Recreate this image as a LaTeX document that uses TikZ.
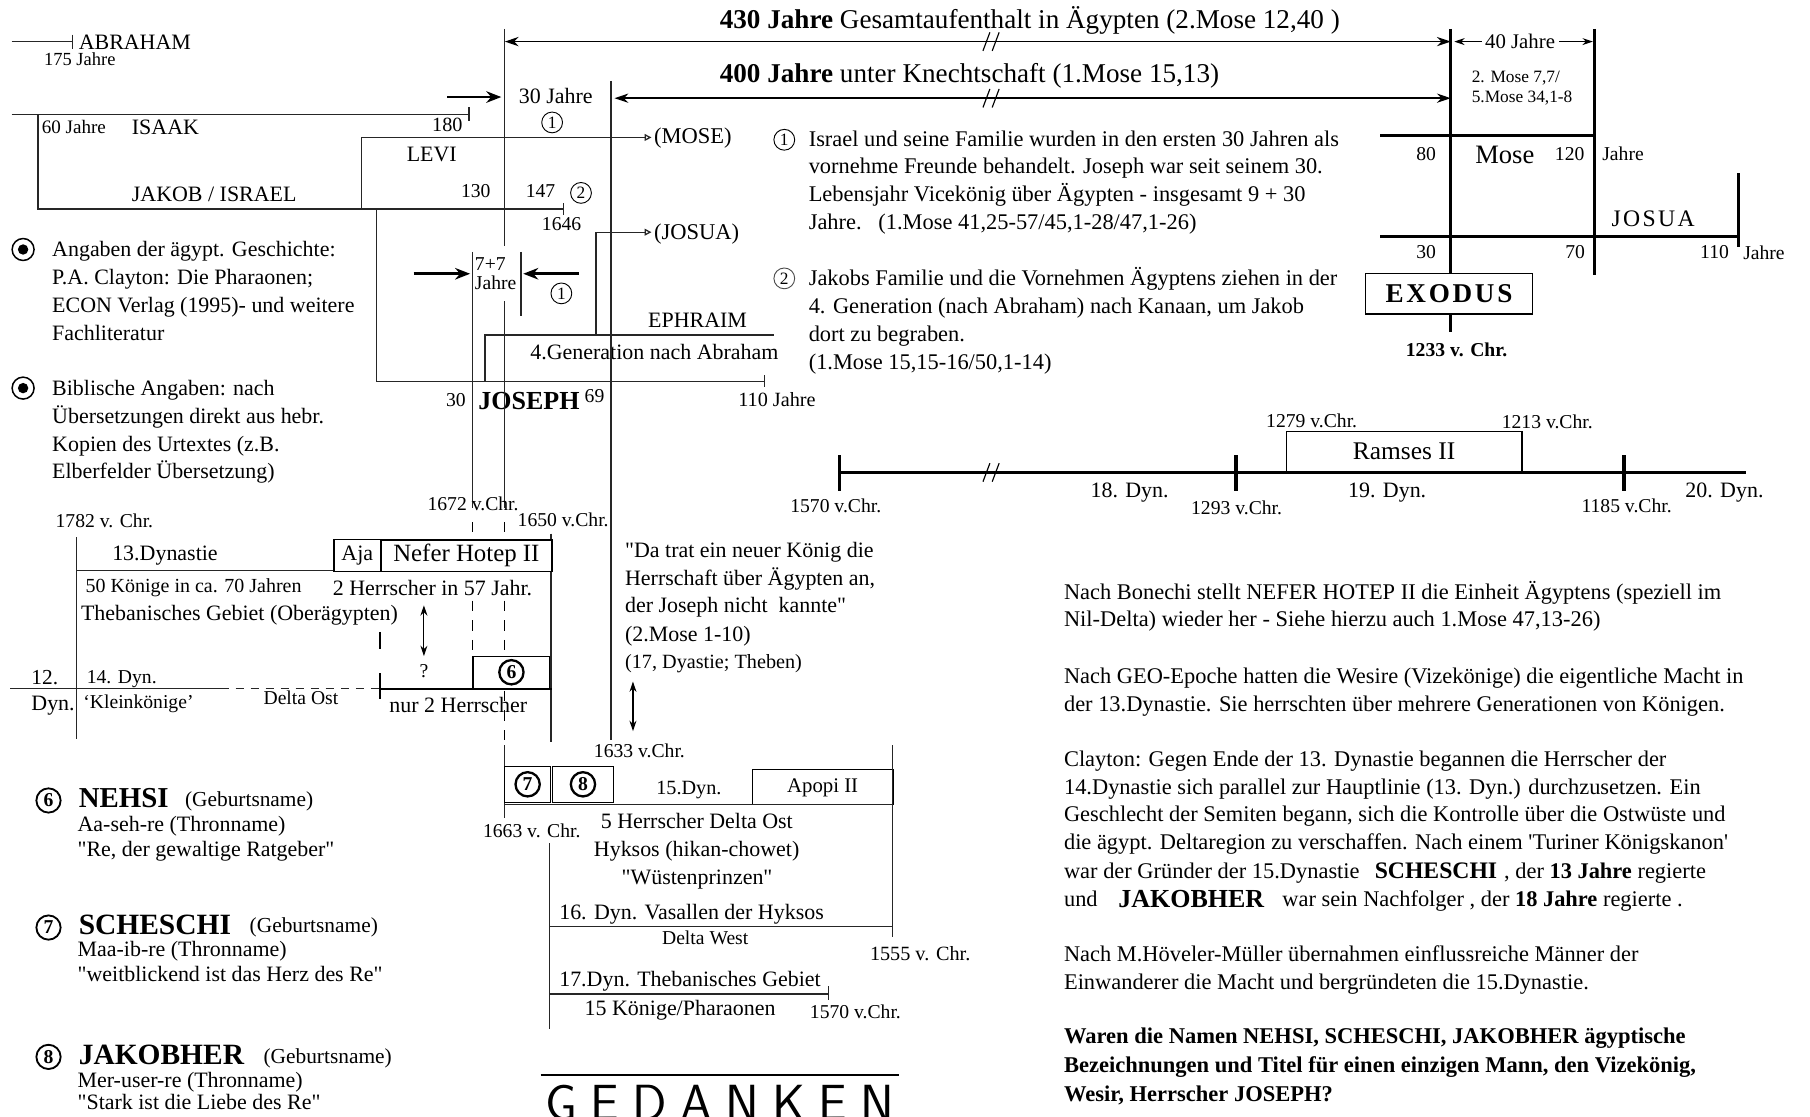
\documentclass[tikz,border=0pt]{standalone}
\usepackage{fontspec}
\setmainfont{Liberation Serif}[Ligatures=TeXOff]
\newfontfamily\spaced[LetterSpace=10,Ligatures=TeXOff]{Liberation Serif}
\usetikzlibrary{arrows.meta}
\newcommand\fsz[1]{\fontsize{#1}{#1}\selectfont}
\newcommand\mylab[5]{\node[inner sep=0pt,anchor=base west,font=\fsz{#4}] (#1) at (#2,{#3+0.34*#4}) {#5};}
\newcommand\mylabc[5]{\node[inner sep=0pt,anchor=base,font=\fsz{#4}] (#1) at (#2,{#3+0.34*#4}) {#5};}
\newcommand\mylabr[5]{\node[inner sep=0pt,anchor=base east,font=\fsz{#4}] (#1) at (#2,{#3+0.34*#4}) {#5};}
\newcommand\brk[2]{\draw[line width=1pt] ({#1-7},{#2+8}) -- ({#1-1},{#2-8}) ({#1+1},{#2+8}) -- ({#1+7},{#2-8});}
\newcommand\gsp{\hspace{11.5pt}}
\tikzset{
  ln/.style={line width=1.1pt, black!85},
  tk/.style={line width=2.6pt},
  dsh/.style={line width=1.1pt, dash pattern=on 9pt off 8pt},
  ar/.style={line width=2.2pt,-{Stealth[length=13pt,width=10pt]}},
  dar/.style={line width=1.3pt,{Stealth[length=12pt,width=8pt]}-{Stealth[length=12pt,width=8pt]}},
  dbl/.style={line width=1pt,{Stealth[length=9pt,width=6pt]}-{Stealth[length=9pt,width=6pt]}},
  sar/.style={line width=1pt,-{Stealth[length=9pt,width=6pt]}},
  opn/.style={ln,-{Triangle[open,length=6pt,width=6pt]}},
  cn/.style={circle,draw,line width=0.8pt,minimum size=18pt,inner sep=0pt,font=\fsz{15}},
  cb/.style={circle,draw,line width=2pt,minimum size=21pt,inner sep=0pt,font=\fsz{17}\bfseries},
  cl/.style={circle,draw,line width=1.3pt,minimum size=19pt,inner sep=0pt,font=\fsz{15}},
  cg/.style={circle,draw,line width=1.6pt,minimum size=21pt,inner sep=0pt,font=\fsz{17}\bfseries},
  bx/.style={draw,line width=1.2pt,inner sep=0pt,anchor=north west},
}
\begin{document}
\begin{tikzpicture}[x=1pt,y=-1pt]
\useasboundingbox[fill=white] (0,0) rectangle (1567,967);

% ---------- headings and big arrows ----------
\mylab{h430}{623}{17}{23.5}{\textbf{430 Jahre} Gesamtaufenthalt in Ägypten (2.Mose 12,40 )}
\mylab{h400}{623}{63}{23.5}{\textbf{400 Jahre} unter Knechtschaft (1.Mose 15,13)}
\draw[dar] (437,36) -- (1256,36);
\brk{858}{36}
\draw[dar] (532,85) -- (1256,85);
\brk{858}{85}
\mylabc{j40}{1316}{36}{18}{40 Jahre}
\draw[sar] (1283,36) -- (1259,36);
\draw[sar] (1350,36) -- (1379,36);

% ---------- Mose / Josua frame ----------
\draw[tk] (1256,25) -- (1256,287);
\draw[tk] (1380,25) -- (1380,238);
\draw[tk] (1195,117) -- (1380,117);
\draw[tk] (1195,205) -- (1505,205);
\draw[tk] (1505,150) -- (1505,214);
\mylab{m1}{1274}{66}{15}{2. Mose 7,7/}
\mylab{m2}{1274}{84}{15}{5.Mose 34,1-8}
\mylab{n80}{1226}{133}{17}{80}
\mylab{mose}{1277}{134}{23}{Mose}
\mylab{n120}{1346}{133}{17}{120}
\mylab{jm}{1387}{133}{17}{Jahre}
\mylab{josua}{1395}{189}{20.5}{\spaced JOSUA}
\mylab{n30}{1226}{218}{17}{30}
\mylab{n70}{1355}{218}{17}{70}
\mylabr{n110}{1497}{218}{17}{110}
\mylab{jj}{1509}{219}{17}{Jahre}
\node[draw,fill=white,line width=1.2pt,minimum width=145pt,minimum height=35pt,inner sep=0pt,font={\fsz{23.5}\spaced\bfseries}] (exo) at (1254.5,254.5) {EXODUS};
\mylabc{y1233}{1261}{303}{17}{\textbf{1233 v. Chr.}}

% ---------- genealogy ----------
\draw[ln] (10,36) -- (63,36); \draw[ln] (63,30) -- (63,42);
\mylab{abr}{68}{36}{19}{ABRAHAM}
\mylab{a175}{38}{51}{16}{175 Jahre}
\draw[ln] (10,99) -- (406,99); \draw[ln] (406,93) -- (406,105);
\draw[ln] (33,99) -- (33,181) -- (488,181); \draw[ln] (488,176) -- (488,186);
\mylab{s60}{36}{110}{16.5}{60 Jahre}
\mylab{isaak}{114}{110}{19}{ISAAK}
\mylab{s180}{374}{108}{17.5}{180}
\mylab{jakob}{114}{168}{19}{JAKOB / ISRAEL}
\mylab{s130}{399}{165}{17}{130}
\mylab{s147}{455}{165}{17}{147}
\node[cn] (c2a) at (503,167) {2};
\mylab{s1646}{469}{194}{17}{1646}
\draw[opn] (313,181) -- (313,119) -- (564,119);
\mylab{mosep}{566}{118}{19.5}{(MOSE)}
\mylab{levi}{352}{133}{19}{LEVI}
\draw[ln] (326,181) -- (326,330) -- (662,330); \draw[ln] (662,325) -- (662,335);
\mylab{s30}{386}{346}{17}{30}
\mylab{joseph}{414}{347}{22.5}{\textbf{JOSEPH}}
\mylab{s69}{506}{343}{17}{69}
\mylab{s110}{639}{346}{17.5}{110 Jahre}
\draw[line width=1.5pt,black!85] (420,330) -- (420,290) -- (670,290);
\draw[opn] (516,290) -- (516,201) -- (564,201);
\mylab{josp}{566}{201}{19.5}{(JOSUA)}
\mylab{eph}{561}{277}{19}{EPHRAIM}
\mylab{gen4}{459}{305}{19}{4.Generation nach Abraham}

% ---------- 30 Jahre / 7+7 ----------
\draw[ln] (437,25) -- (437,213);
\draw[ln] (437,261) -- (437,440);
\draw[ln] (529,70) -- (529,641);
\draw[ar] (387,84) -- (434,84);
\mylab{j30}{449}{83}{19}{30 Jahre}
\node[cn] (c1a) at (478,106) {1};
\draw[ln] (409,218) -- (409,440);
\draw[ln] (451,218) -- (451,274);
\mylab{s77}{411}{228}{17}{7+7}
\mylab{j77}{411}{245}{17}{Jahre}
\draw[ar] (358,237) -- (407,237);
\draw[ar] (501,237) -- (453,237);
\node[cn] (c1b) at (486,254) {1};

% ---------- legend top-left ----------
\node[cl] (lg1) at (20,216) {}; \fill (lg1.center) circle (4.5);
\node[cl] (lg2) at (20,336) {}; \fill (lg2.center) circle (4.5);
\mylab{la1}{45}{216}{19}{Angaben der ägypt. Geschichte:}
\mylab{la2}{45}{240}{19}{P.A. Clayton: Die Pharaonen;}
\mylab{la3}{45}{264}{19}{ECON Verlag (1995)- und weitere}
\mylab{la4}{45}{288}{19}{Fachliteratur}
\mylab{lb1}{45}{336}{19}{Biblische Angaben: nach}
\mylab{lb2}{45}{360}{19}{Übersetzungen direkt aus hebr.}
\mylab{lb3}{45}{384}{19}{Kopien des Urtextes (z.B.}
\mylab{lb4}{45}{408}{19}{Elberfelder Übersetzung)}

% ---------- notes 1 and 2 ----------
\node[cn] (c1c) at (679,121) {1};
\mylab{r11}{700}{120}{19.4}{Israel und seine Familie wurden in den ersten 30 Jahren als}
\mylab{r12}{700}{144}{19.4}{vornehme Freunde behandelt. Joseph war seit seinem 30.}
\mylab{r13}{700}{168}{19.4}{Lebensjahr Vicekönig über Ägypten - insgesamt 9 + 30}
\mylab{r14}{700}{192}{19.4}{Jahre.\ \ \ (1.Mose 41,25-57/45,1-28/47,1-26)}
\node[cn,draw=black!70] (c2b) at (679,241) {2};
\mylab{r21}{700}{241}{19.4}{Jakobs Familie und die Vornehmen Ägyptens ziehen in der}
\mylab{r22}{700}{265}{19.4}{4. Generation (nach Abraham) nach Kanaan, um Jakob}
\mylab{r23}{700}{289}{19.4}{dort zu begraben.}
\mylab{r24}{700}{313}{19.4}{(1.Mose 15,15-16/50,1-14)}

% ---------- dates ----------
\mylab{d1672}{370}{436}{17}{1672 v.Chr.}
\mylab{d1650}{448}{450}{17}{1650 v.Chr.}
\mylab{d1782}{48}{451}{17}{1782 v. Chr.}

% ---------- 13. / 14. Dynastie ----------
\draw[dsh] (409,452) -- (409,567);
\draw[dsh] (437,452) -- (437,567);
\draw[dsh] (437,598) -- (437,663);
\draw[ln] (66,465) -- (66,640);
\draw[ln] (66,494) -- (289,494);
\draw[ln] (477,462) -- (477,642);
\node[bx,fill=white,minimum width=40.5pt,minimum height=27.5pt,font=\fsz{19}] (aja) at (288.5,466.5) {Aja};
\node[bx,fill=white,line width=1.5pt,minimum width=148pt,minimum height=27.5pt,font=\fsz{21.5}] (nefer) at (329,466.5) {Nefer Hotep II};
\mylab{dyn13}{97}{479}{19}{13.Dynastie}
\mylab{k50}{74}{507}{17.3}{50 Könige in ca. 70 Jahren}
\node[inner sep=0pt,anchor=base west,font=\fsz{19},fill=white] (h2) at (288,{509+0.34*19}) {2 Herrscher in 57 Jahr.};
\mylab{theb}{70}{531}{19}{Thebanisches Gebiet (Oberägypten)}
\draw[dbl] (367,524) -- (367,568);
\mylabc{qq}{367}{581}{17}{?}
\draw[ln] (9,596) -- (191,596);
\draw[ln,dash pattern=on 7pt off 6pt] (191,596) -- (329,596);
\draw[line width=2.5pt] (329,596.5) -- (478,596.5);
\draw[line width=2.5pt] (329,583) -- (329,605);
\draw[line width=2.5pt] (329,547) -- (329,562);
\node[bx,line width=1pt,fill=white,minimum width=66.5pt,minimum height=28pt] (b6) at (409,567.5) {};
\node[cb] (c6) at (b6.center) {6};
\mylab{d12}{27}{586}{18.5}{12.}
\mylab{dynl}{27}{609}{19}{Dyn.}
\mylab{d14}{75}{586}{17}{14. Dyn.}
\mylab{klein}{72}{608}{17}{‘Kleinkönige’}
\mylab{dost}{228}{604}{17}{Delta Ost}
\mylab{nur2}{337}{610}{19}{nur 2 Herrscher}

% ---------- quote ----------
\mylab{qu1}{541}{476}{19}{"Da trat ein neuer König die}
\mylab{qu2}{541}{500}{19}{Herrschaft über Ägypten an,}
\mylab{qu3}{541}{524}{19}{der Joseph nicht\ \ kannte"}
\mylab{qu4}{541}{549}{19}{(2.Mose 1-10)}
\mylab{qu5}{541}{573}{17.5}{(17, Dyastie; Theben)}
\draw[dbl] (548,590) -- (548,633);
\mylab{d1633}{514}{650}{17}{1633 v.Chr.}

% ---------- 15. / 16. / 17. Dynastie ----------
\draw[ln] (436.6,645) -- (436.6,708);
\node[bx,line width=1pt,minimum width=39.4pt,minimum height=31pt] (b7) at (436.6,663) {};
\node[cb] (c7) at (b7.center) {7};
\node[bx,line width=1pt,minimum width=52.4pt,minimum height=31pt] (b8) at (478,663) {};
\node[cb] (c8) at (b8.center) {8};
\node[bx,line width=1pt,minimum width=122pt,minimum height=30.3pt,font=\fsz{18}] (apo) at (650.7,666) {Apopi II};
\draw[ln] (436.6,696.3) -- (772.7,696.3);
\draw[ln] (772.7,645) -- (772.7,811);
\mylab{d15}{568}{682}{17.5}{15.Dyn.}
\mylab{d1663}{418}{719}{17}{1663 v. Chr.}
\draw[ln] (476,730) -- (476,891);
\mylab{h5}{520}{711}{19}{5 Herrscher Delta Ost}
\mylab{hyk}{514}{735}{19}{Hyksos (hikan-chowet)}
\mylab{wue}{538}{759}{19}{"Wüstenprinzen"}
\mylab{d16}{484}{790}{19}{16. Dyn. Vasallen der Hyksos}
\draw[ln] (476,802) -- (772.7,802);
\mylab{dw}{573}{812}{17}{Delta West}
\mylab{d1555}{753}{826}{17.5}{1555 v. Chr.}
\mylab{d17}{484}{848}{19}{17.Dyn. Thebanisches Gebiet}
\draw[ln] (476,860.5) -- (717,860.5); \draw[ln] (717,854) -- (717,866);
\mylab{k15}{506}{873}{19}{15 Könige/Pharaonen}
\mylab{d1570b}{701}{876}{17}{1570 v.Chr.}

% ---------- legend names ----------
\node[cg] (l6) at (42,693) {6};
\mylab{nehsi}{68}{691}{25}{\textbf{NEHSI}}
\mylab{g6}{160}{692}{18.5}{(Geburtsname)}
\mylab{a6}{67}{713}{19}{Aa-seh-re (Thronname)}
\mylab{r6}{67}{735}{19}{"Re, der gewaltige Ratgeber"}
\node[cg] (l7) at (42,803) {7};
\mylab{sch}{68}{800}{25.5}{\textbf{SCHESCHI}}
\mylab{g7}{216}{801}{18.5}{(Geburtsname)}
\mylab{a7}{67}{822}{19}{Maa-ib-re (Thronname)}
\mylab{r7}{67}{843}{19}{"weitblickend ist das Herz des Re"}
\node[cg] (l8) at (42,915) {8};
\mylab{jak}{68}{913}{25.5}{\textbf{JAKOBHER}}
\mylab{g8}{228}{914}{18.5}{(Geburtsname)}
\mylab{a8}{67}{935}{19}{Mer-user-re (Thronname)}
\mylab{r8}{67}{954}{19}{"Stark ist die Liebe des Re"}

% ---------- GEDANKEN ----------
\draw[line width=1.8pt] (468,931) -- (778,931);
\node[anchor=north west,inner sep=0pt,font={\fsz{44}\sffamily}] (ged) at (472,939) {G\gsp E\gsp D\gsp A\gsp N\gsp K\gsp E\gsp N};

% ---------- Ramses timeline ----------
\draw[line width=3pt] (727,409) -- (1512,409);
\draw[line width=3pt] (727,394) -- (727,425);
\draw[line width=3pt] (1070,394) -- (1070,425);
\draw[line width=3pt] (1406,394) -- (1406,425);
\brk{858}{409}
\node[draw,line width=1.2pt,minimum width=204pt,minimum height=35pt,inner sep=0pt,anchor=south west,font=\fsz{22}] (ram) at (1113,409) {Ramses II};
\mylab{d1279}{1096}{364}{17}{1279 v.Chr.}
\mylab{d1213}{1300}{365}{17}{1213 v.Chr.}
\mylab{d1570}{684}{438}{17}{1570 v.Chr.}
\mylab{dy18}{944}{424}{19}{18. Dyn.}
\mylab{d1293}{1031}{440}{17}{1293 v.Chr.}
\mylab{dy19}{1167}{424}{19}{19. Dyn.}
\mylab{d1185}{1369}{438}{17}{1185 v.Chr.}
\mylab{dy20}{1459}{424}{19}{20. Dyn.}

% ---------- right text ----------
\mylab{p11}{921}{512}{19.4}{Nach Bonechi stellt NEFER HOTEP II die Einheit Ägyptens (speziell im}
\mylab{p12}{921}{536}{19.4}{Nil-Delta) wieder her - Siehe hierzu auch 1.Mose 47,13-26)}
\mylab{p21}{921}{585}{19.4}{Nach GEO-Epoche hatten die Wesire (Vizekönige) die eigentliche Macht in}
\mylab{p22}{921}{609}{19.4}{der 13.Dynastie. Sie herrschten über mehrere Generationen von Königen.}
\mylab{p31}{921}{657}{19.4}{Clayton: Gegen Ende der 13. Dynastie begannen die Herrscher der}
\mylab{p32}{921}{681}{19.4}{14.Dynastie sich parallel zur Hauptlinie (13. Dyn.) durchzusetzen. Ein}
\mylab{p33}{921}{705}{19.4}{Geschlecht der Semiten begann, sich die Kontrolle über die Ostwüste und}
\mylab{p34}{921}{729}{19.4}{die ägypt. Deltaregion zu verschaffen. Nach einem 'Turiner Königskanon'}
\mylab{p35a}{921}{754}{19.4}{war der Gründer der 15.Dynastie}
\mylab{p35b}{1190}{754}{20.5}{\textbf{SCHESCHI}}
\mylab{p35c}{1302}{754}{19.4}{, der \textbf{13 Jahre} regierte}
\mylab{p36a}{921}{778}{19.4}{und}
\mylab{p36b}{968}{778}{22.5}{\textbf{JAKOBHER}}
\mylab{p36c}{1110}{778}{19.4}{war sein Nachfolger , der \textbf{18 Jahre} regierte .}
\mylab{p41}{921}{826}{19.4}{Nach M.Höveler-Müller übernahmen einflussreiche Männer der}
\mylab{p42}{921}{850}{19.4}{Einwanderer die Macht und bergründeten die 15.Dynastie.}
\mylab{p51}{921}{897}{19.5}{\textbf{Waren die Namen NEHSI, SCHESCHI, JAKOBHER ägyptische}}
\mylab{p52}{921}{922}{19.5}{\textbf{Bezeichnungen und Titel für einen einzigen Mann, den Vizekönig,}}
\mylab{p53}{921}{947}{19.5}{\textbf{Wesir, Herrscher JOSEPH?}}
\end{tikzpicture}
\end{document}
